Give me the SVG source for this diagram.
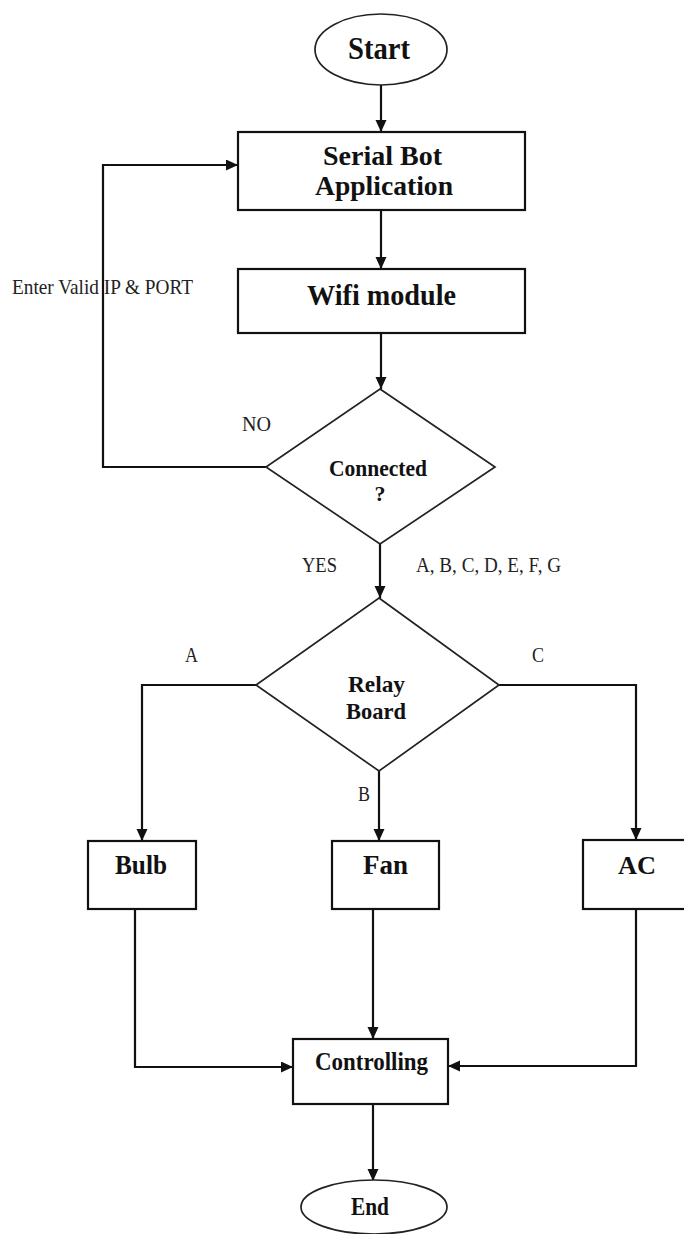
<svg xmlns="http://www.w3.org/2000/svg" width="684" height="1234" viewBox="0 0 684 1234">
<style>
.shape{fill:#fff;stroke:#111;stroke-width:2.2}
.thin{fill:#fff;stroke:#222;stroke-width:1.7}
.conn{fill:none;stroke:#111;stroke-width:2.2}
.b{font-family:"Liberation Serif","Times New Roman",serif;font-weight:bold;fill:#111}
.r{font-family:"Liberation Serif","Times New Roman",serif;font-size:21px;fill:#222}
</style>
<defs>
<marker id="ah" markerUnits="userSpaceOnUse" markerWidth="13" markerHeight="12" refX="12" refY="5.5" orient="auto">
<path d="M0,0 L12,5.5 L0,11 z" fill="#111"/>
</marker>
</defs>
<rect width="684" height="1234" fill="#fff"/>
<g id="connectors">
<line class="conn" x1="381" y1="85" x2="381" y2="132" marker-end="url(#ah)"/>
<line class="conn" x1="381" y1="210" x2="381" y2="269" marker-end="url(#ah)"/>
<line class="conn" x1="381" y1="333" x2="381" y2="389" marker-end="url(#ah)"/>
<polyline class="conn" points="266,467 103,467 103,165 238,165" marker-end="url(#ah)"/>
<line class="conn" x1="380" y1="544" x2="380" y2="598" marker-end="url(#ah)"/>
<polyline class="conn" points="256,685 142,685 142,841" marker-end="url(#ah)"/>
<line class="conn" x1="379" y1="771" x2="379" y2="841" marker-end="url(#ah)"/>
<polyline class="conn" points="499,685 636,685 636,840" marker-end="url(#ah)"/>
<polyline class="conn" points="135,909 135,1067 293,1067" marker-end="url(#ah)"/>
<line class="conn" x1="373" y1="909" x2="373" y2="1039" marker-end="url(#ah)"/>
<polyline class="conn" points="636,909 636,1066 448,1066" marker-end="url(#ah)"/>
<line class="conn" x1="373" y1="1104" x2="373" y2="1181" marker-end="url(#ah)"/>
<text class="r" x="12" y="294" textLength="181" lengthAdjust="spacingAndGlyphs">Enter Valid IP &amp; PORT</text>
<text class="r" x="242" y="431" textLength="29" lengthAdjust="spacingAndGlyphs">NO</text>
<text class="r" x="302" y="572" textLength="35" lengthAdjust="spacingAndGlyphs">YES</text>
<text class="r" x="416" y="572" textLength="145" lengthAdjust="spacingAndGlyphs">A, B, C, D, E, F, G</text>
<text class="r" x="185" y="662" textLength="13" lengthAdjust="spacingAndGlyphs">A</text>
<text class="r" x="532" y="662" textLength="12" lengthAdjust="spacingAndGlyphs">C</text>
<text class="r" x="358" y="801" textLength="12" lengthAdjust="spacingAndGlyphs">B</text>
</g>
<g id="start">
<ellipse class="thin" cx="381" cy="49.5" rx="66" ry="35.5"/>
<text class="b" x="348" y="59" font-size="32" textLength="62" lengthAdjust="spacingAndGlyphs">Start</text>
</g>
<g id="serial-bot">
<rect class="shape" x="238" y="132" width="287" height="78"/>
<text class="b" x="323" y="165" font-size="27" textLength="119" lengthAdjust="spacingAndGlyphs">Serial Bot</text>
<text class="b" x="315" y="195" font-size="27" textLength="138" lengthAdjust="spacingAndGlyphs">Application</text>
</g>
<g id="wifi">
<rect class="shape" x="238" y="269" width="287" height="64"/>
<text class="b" x="307" y="305" font-size="30" textLength="149" lengthAdjust="spacingAndGlyphs">Wifi module</text>
</g>
<g id="connected">
<polygon class="thin" points="380,389 495,467 380,544 266,467"/>
<text class="b" x="329" y="476" font-size="24" textLength="98" lengthAdjust="spacingAndGlyphs">Connected</text>
<text class="b" x="380" y="501" font-size="22" text-anchor="middle">?</text>
</g>
<g id="relay">
<polygon class="thin" points="379,598 499,685 379,771 256,685"/>
<text class="b" x="348" y="692" font-size="23" textLength="57" lengthAdjust="spacingAndGlyphs">Relay</text>
<text class="b" x="346" y="719" font-size="23" textLength="60" lengthAdjust="spacingAndGlyphs">Board</text>
</g>
<g id="bulb">
<rect class="shape" x="88" y="841" width="108" height="68"/>
<text class="b" x="115" y="874" font-size="27" textLength="52" lengthAdjust="spacingAndGlyphs">Bulb</text>
</g>
<g id="fan">
<rect class="shape" x="332" y="841" width="107" height="68"/>
<text class="b" x="363" y="874" font-size="27" textLength="45" lengthAdjust="spacingAndGlyphs">Fan</text>
</g>
<g id="ac">
<rect class="shape" x="583" y="840" width="120" height="69"/>
<text class="b" x="618" y="874" font-size="26" textLength="38" lengthAdjust="spacingAndGlyphs">AC</text>
</g>
<g id="controlling">
<rect class="shape" x="293" y="1039" width="155" height="65"/>
<text class="b" x="315" y="1070" font-size="25" textLength="113" lengthAdjust="spacingAndGlyphs">Controlling</text>
</g>
<g id="end">
<ellipse class="thin" cx="374" cy="1207" rx="73" ry="27"/>
<text class="b" x="351" y="1215" font-size="25" textLength="38" lengthAdjust="spacingAndGlyphs">End</text>
</g>
</svg>
